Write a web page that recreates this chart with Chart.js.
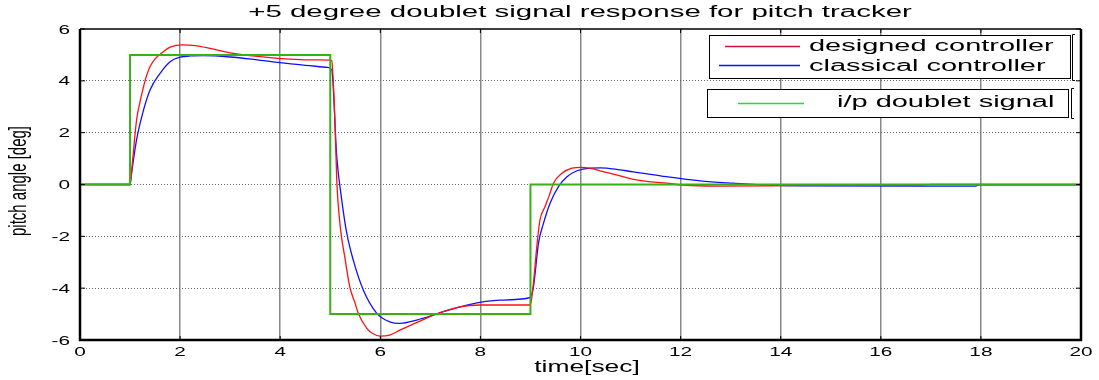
<!DOCTYPE html>
<html>
    <head>
        <meta charset="utf-8">
        <title>pitch tracker</title>
        <script src="https://cdn.jsdelivr.net/npm/chart.js@4/dist/chart.umd.min.js"></script>
        <style>
            body { margin: 0; background: #fff; }
            #plot { display: block; }
        </style>
    </head>
    <body>
        <canvas id="plot" width="1099" height="380"></canvas>
        <script>
            // values
            const titleText = "+5 degree doublet signal response for pitch tracker";
            const xTitle = "time[sec]";
            const yTitle = "pitch angle [deg]";
            const xTicks = [0, 2, 4, 6, 8, 10, 12, 14, 16, 18, 20];
            const yTicks = [-6, -4, -2, 0, 2, 4, 6];

            const inputTime = [0, 1, 1, 5, 5, 9, 9, 20];
            const inputVal  = [0, 0, 5, 5, -5, -5, 0, 0];

            const designedTime = [0, 1.0, 1.05, 1.13, 1.2, 1.27, 1.33, 1.4, 1.5, 1.63, 1.8, 2.05, 2.3, 2.6, 3.0, 3.5, 4.0, 4.5, 5.0, 5.03, 5.09, 5.13, 5.2, 5.29, 5.39, 5.5, 5.56, 5.73, 5.85, 6.0, 6.2, 6.39, 6.7, 7.06, 7.3, 7.59, 8.0, 8.5, 8.98, 9.02, 9.08, 9.12, 9.19, 9.29, 9.38, 9.46, 9.63, 9.83, 10.02, 10.2, 10.39, 10.7, 11.06, 11.4, 11.72, 12.05, 12.72, 13.72, 14.4, 16.8, 17.0, 20];
            const designedVal  = [0, 0, 0.9, 2.49, 3.2, 3.78, 4.2, 4.55, 4.85, 5.07, 5.3, 5.39, 5.36, 5.25, 5.08, 4.95, 4.86, 4.81, 4.8, 4.78, 2.62, 0.17, -1.63, -2.79, -3.95, -4.6, -4.97, -5.55, -5.75, -5.85, -5.8, -5.62, -5.35, -5.04, -4.88, -4.72, -4.65, -4.65, -4.65, -4.46, -3.4, -2.53, -1.37, -0.86, -0.4, 0.05, 0.43, 0.63, 0.66, 0.62, 0.53, 0.38, 0.2, 0.1, 0.05, -0.02, -0.06, -0.05, -0.03, -0.03, 0, 0];

            const classicalTime = [0, 1.0, 1.03, 1.13, 1.27, 1.4, 1.6, 1.8, 2.0, 2.2, 2.46, 3.0, 3.5, 4.0, 4.5, 4.95, 5.03, 5.13, 5.23, 5.33, 5.46, 5.66, 5.93, 6.19, 6.39, 6.73, 7.19, 7.73, 8.39, 8.98, 9.06, 9.16, 9.26, 9.39, 9.56, 9.73, 9.93, 10.19, 10.4, 10.52, 11.06, 11.72, 12.39, 13.06, 13.72, 14.39, 17.9, 17.95, 20];
            const classicalVal  = [0, 0, 0.43, 1.72, 2.88, 3.65, 4.29, 4.74, 4.91, 4.96, 4.97, 4.92, 4.82, 4.7, 4.6, 4.52, 4.42, 1.07, -0.6, -1.88, -2.92, -4.07, -4.97, -5.3, -5.36, -5.23, -4.95, -4.65, -4.46, -4.37, -3.95, -2.27, -1.5, -0.73, -0.08, 0.3, 0.53, 0.63, 0.64, 0.63, 0.49, 0.3, 0.14, 0.05, -0.02, -0.05, -0.06, -0.01, -0.01];

            function pts(ts, vs) {
                var out = [];
                for (var i = 0; i < ts.length; i++) {
                    out.push({x: ts[i], y: vs[i]});
                }
                return out;
            }

            const FONT = '"Liberation Sans", Arial, sans-serif';

            // the original figure is stretched sideways, so text is drawn with a horizontal scale
            function wideText(ctx, txt, x, y, size, sx, align) {
                ctx.save();
                ctx.translate(x, y);
                ctx.scale(sx, 1);
                ctx.font = size + "px " + FONT;
                ctx.fillStyle = "#000";
                ctx.textAlign = align || "center";
                ctx.textBaseline = "middle";
                ctx.fillText(txt, 0, 0);
                ctx.restore();
            }

            const framePlugin = {
                id: "frame",
                afterDraw: function(chart) {
                    var ctx = chart.ctx;
                    var a = chart.chartArea;
                    var xs = chart.scales.x, ys = chart.scales.y;

                    ctx.save();
                    ctx.strokeStyle = "#000";
                    // small inward ticks
                    ctx.lineWidth = 1;
                    xTicks.forEach(function(t) {
                        var px = xs.getPixelForValue(t);
                        ctx.beginPath();
                        ctx.moveTo(px, a.bottom); ctx.lineTo(px, a.bottom - 4);
                        ctx.moveTo(px, a.top); ctx.lineTo(px, a.top + 4);
                        ctx.stroke();
                    });
                    yTicks.forEach(function(v) {
                        var py = ys.getPixelForValue(v);
                        ctx.beginPath();
                        ctx.moveTo(a.left, py); ctx.lineTo(a.left + 5, py);
                        ctx.moveTo(a.right, py); ctx.lineTo(a.right - 5, py);
                        ctx.stroke();
                    });
                    // box
                    ctx.lineWidth = 1.5;
                    ctx.beginPath();
                    ctx.moveTo(a.left, a.top); ctx.lineTo(a.right, a.top);
                    ctx.stroke();
                    ctx.lineWidth = 2.5;
                    ctx.beginPath();
                    ctx.moveTo(a.left, a.top); ctx.lineTo(a.left, a.bottom); ctx.lineTo(a.right, a.bottom); ctx.lineTo(a.right, a.top);
                    ctx.stroke();
                    ctx.restore();

                    // tick labels
                    xTicks.forEach(function(t) {
                        wideText(ctx, String(t), xs.getPixelForValue(t), a.bottom + 12, 13, 1.6, "center");
                    });
                    yTicks.forEach(function(v) {
                        wideText(ctx, String(v), a.left - 10, ys.getPixelForValue(v) + 1, 13, 1.6, "right");
                    });

                    // titles
                    wideText(ctx, titleText, 580, 13, 16, 1.84, "center");
                    wideText(ctx, xTitle, 587, 368, 16, 1.65, "center");
                    ctx.save();
                    ctx.translate(19, 181);
                    ctx.rotate(-Math.PI / 2);
                    ctx.scale(1, 1.6);
                    ctx.font = "15px " + FONT;
                    ctx.fillStyle = "#000";
                    ctx.textAlign = "center";
                    ctx.textBaseline = "middle";
                    ctx.fillText(yTitle, 0, 0);
                    ctx.restore();

                    // legend boxes
                    var ds = chart.data.datasets;
                    ctx.save();
                    ctx.fillStyle = "#fff";
                    ctx.strokeStyle = "#000";
                    ctx.lineWidth = 1;
                    ctx.fillRect(709, 35, 361, 43);
                    ctx.strokeRect(709.5, 35.5, 361, 43);
                    ctx.fillRect(707, 89, 361, 28);
                    ctx.strokeRect(707.5, 89.5, 361, 28);
                    // bracket marks on the right
                    ctx.beginPath();
                    ctx.moveTo(1075, 34.5); ctx.lineTo(1072.5, 34.5); ctx.lineTo(1072.5, 80.5); ctx.lineTo(1075, 80.5);
                    ctx.moveTo(1074, 88.5); ctx.lineTo(1071.5, 88.5); ctx.lineTo(1071.5, 118.5); ctx.lineTo(1074, 118.5);
                    ctx.stroke();
                    ctx.lineWidth = 1.5;
                    ctx.strokeStyle = "#d01030";
                    ctx.beginPath(); ctx.moveTo(725, 46.5); ctx.lineTo(800, 46.5); ctx.stroke();
                    ctx.strokeStyle = "#1010f0";
                    ctx.beginPath(); ctx.moveTo(719, 65.5); ctx.lineTo(800, 65.5); ctx.stroke();
                    ctx.strokeStyle = "#20e020";
                    ctx.beginPath(); ctx.moveTo(738, 103.5); ctx.lineTo(804, 103.5); ctx.stroke();
                    ctx.restore();
                    wideText(ctx, ds[0].label, 809, 47, 16, 1.81, "left");
                    wideText(ctx, ds[1].label, 809, 67, 16, 1.81, "left");
                    wideText(ctx, ds[2].label, 837, 103, 16, 1.81, "left");
                }
            };

            var ctx = document.getElementById("plot").getContext("2d");
            var chart = new Chart(ctx, {
                type: "scatter",
                data: {
                    datasets: [
                        {label: "designed controller", data: pts(designedTime, designedVal), borderColor: "#ff1010", borderWidth: 1.3, cubicInterpolationMode: "monotone", order: 2},
                        {label: "classical controller", data: pts(classicalTime, classicalVal), borderColor: "#1010ff", borderWidth: 1.3, cubicInterpolationMode: "monotone", order: 3},
                        {label: "i/p doublet signal", data: pts(inputTime, inputVal), borderColor: "#38b018", borderWidth: 2, order: 1}
                    ]
                },
                options: {
                    responsive: false,
                    animation: false,
                    devicePixelRatio: 1,
                    showLine: true,
                    elements: {point: {radius: 0}, line: {tension: 0}},
                    layout: {padding: {left: 80, right: 18, top: 29, bottom: 40}},
                    plugins: {legend: {display: false}, tooltip: {enabled: false}},
                    scales: {
                        x: {
                            type: "linear", min: 0, max: 20,
                            ticks: {display: false, stepSize: 2},
                            border: {display: false},
                            grid: {
                                drawTicks: false,
                                lineWidth: 1.5,
                                color: function(c) {
                                    return (c.tick && (c.tick.value === 0 || c.tick.value === 20)) ? "rgba(0,0,0,0)" : "#888";
                                }
                            }
                        },
                        y: {
                            min: -6, max: 6,
                            ticks: {display: false, stepSize: 2},
                            border: {display: false, dash: [1, 2]},
                            grid: {
                                drawTicks: false,
                                lineWidth: 1,
                                color: function(c) {
                                    return (c.tick && Math.abs(c.tick.value) === 6) ? "rgba(0,0,0,0)" : "#666";
                                }
                            }
                        }
                    }
                },
                plugins: [framePlugin]
            });
        </script>
    </body>
</html>
